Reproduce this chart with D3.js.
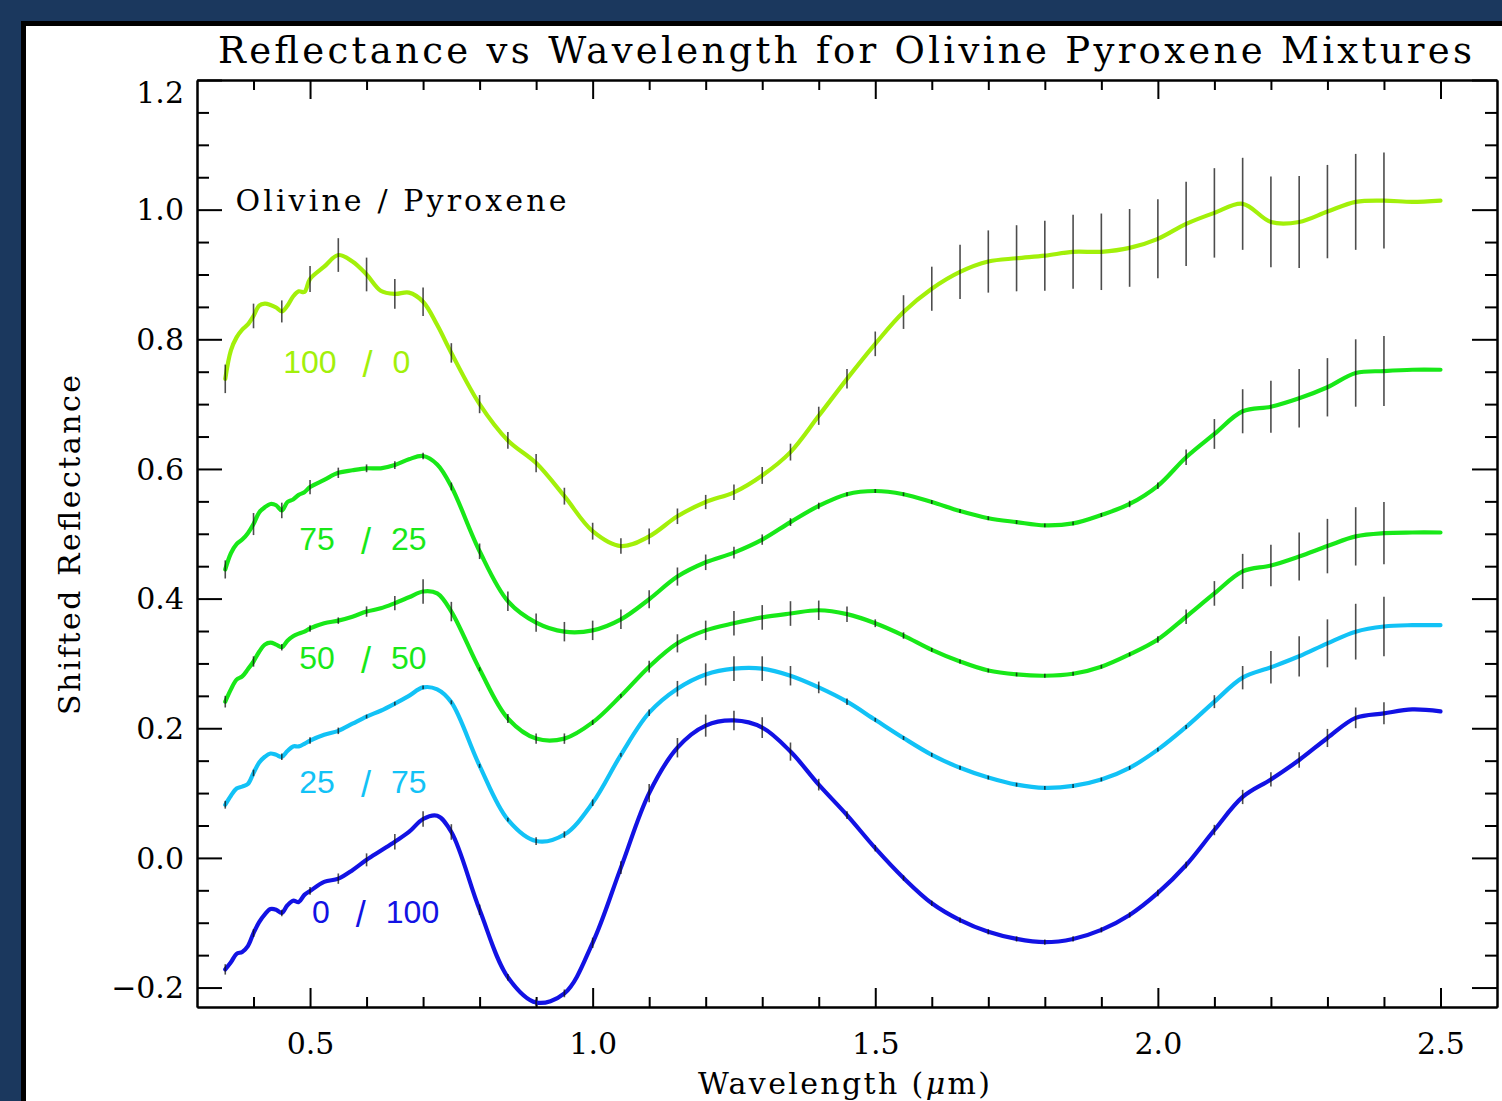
<!DOCTYPE html>
<html>
<head>
<meta charset="utf-8">
<script src="https://cdn.jsdelivr.net/npm/d3@7"></script>
<style>
body { margin: 0; background: #1b385e; }
svg { display: block; }
.axis text { font-family: "DejaVu Serif", serif; font-size: 30px; fill: #000; }
.axis path, .axis line { stroke: #000; stroke-width: 2px; }
</style>
</head>
<body>
<div id="viz"></div>
<script>
// wavelength grid (um)
var waves = [0.35,0.36,0.37,0.38,0.39,0.40,0.41,0.42,0.43,0.44,0.45,0.46,0.47,0.48,0.49,0.50,
  0.525,0.55,0.575,0.60,0.625,0.65,0.675,0.70,0.725,0.75,
  0.80,0.85,0.90,0.95,1.00,1.05,1.10,1.15,1.20,1.25,1.30,1.35,1.40,1.45,1.50,1.55,1.60,1.65,1.70,
  1.75,1.80,1.85,1.90,1.95,2.00,2.05,2.10,2.15,2.20,2.25,2.30,2.35,2.40,2.45,2.50];

// shifted reflectance, olivine / pyroxene mixtures
var ol100 = [0.739,0.783,0.803,0.815,0.823,0.836,0.852,0.855,0.853,0.849,0.843,0.852,0.866,0.874,0.873,0.893,
  0.912,0.930,0.920,0.900,0.875,0.870,0.872,0.858,0.822,0.779,
  0.700,0.644,0.609,0.558,0.504,0.481,0.496,0.527,0.549,0.564,0.590,0.626,0.682,0.739,0.793,0.842,0.878,0.904,0.920,
  0.925,0.929,0.935,0.935,0.941,0.955,0.978,0.995,1.009,0.981,0.981,0.997,1.012,1.014,1.012,1.014];
var ol75 = [0.445,0.470,0.484,0.491,0.501,0.515,0.533,0.541,0.546,0.544,0.536,0.549,0.553,0.560,0.564,0.572,
  0.583,0.594,0.598,0.601,0.601,0.606,0.615,0.620,0.607,0.573,
  0.473,0.396,0.363,0.349,0.351,0.368,0.399,0.434,0.456,0.471,0.491,0.518,0.543,0.561,0.566,0.561,0.549,0.535,0.524,
  0.518,0.513,0.516,0.529,0.546,0.574,0.618,0.654,0.689,0.696,0.709,0.726,0.748,0.751,0.753,0.753];
var ol50 = [0.241,0.260,0.275,0.280,0.291,0.303,0.318,0.329,0.332,0.329,0.325,0.335,0.342,0.346,0.349,0.354,
  0.362,0.366,0.372,0.380,0.385,0.393,0.402,0.411,0.408,0.380,
  0.291,0.215,0.184,0.184,0.209,0.250,0.295,0.331,0.351,0.362,0.371,0.377,0.382,0.376,0.362,0.343,0.321,0.303,0.289,
  0.283,0.281,0.284,0.295,0.314,0.337,0.372,0.408,0.442,0.451,0.465,0.481,0.496,0.501,0.502,0.502];
var ol25 = [0.082,0.096,0.107,0.110,0.114,0.131,0.147,0.156,0.161,0.159,0.156,0.165,0.172,0.172,0.176,0.181,
  0.190,0.196,0.207,0.218,0.227,0.238,0.250,0.263,0.260,0.240,
  0.142,0.059,0.026,0.036,0.085,0.159,0.224,0.261,0.283,0.292,0.292,0.281,0.263,0.241,0.213,0.185,0.159,0.139,0.124,
  0.113,0.108,0.111,0.121,0.139,0.167,0.202,0.241,0.278,0.294,0.311,0.331,0.349,0.357,0.359,0.359];
var ol0 = [-0.172,-0.161,-0.148,-0.145,-0.136,-0.116,-0.099,-0.087,-0.079,-0.080,-0.085,-0.073,-0.066,-0.068,-0.057,-0.051,
  -0.037,-0.032,-0.019,-0.003,0.011,0.025,0.040,0.060,0.065,0.040,
  -0.080,-0.184,-0.223,-0.209,-0.131,-0.015,0.100,0.170,0.204,0.212,0.201,0.164,0.113,0.066,0.015,-0.031,-0.070,-0.096,-0.114,
  -0.125,-0.130,-0.125,-0.111,-0.088,-0.054,-0.011,0.043,0.094,0.121,0.151,0.185,0.216,0.223,0.229,0.226];

// error bars: wavelengths and half-lengths
var errWaves = [0.35,0.40,0.45,0.50,0.55,0.60,0.65,0.70,0.75,0.80,0.85,0.90,0.95,1.00,1.05,1.10,1.15,1.20,1.25,1.30,1.35,
  1.40,1.45,1.50,1.55,1.60,1.65,1.70,1.75,1.80,1.85,1.90,1.95,2.00,2.05,2.10,2.15,2.20,2.25,2.30,2.35,2.40];
var err100 = [0.022,0.019,0.017,0.020,0.026,0.026,0.023,0.022,0.015,0.014,0.013,0.014,0.013,0.013,0.012,0.012,0.012,0.011,0.012,0.013,0.013,
  0.014,0.015,0.019,0.026,0.034,0.042,0.048,0.051,0.054,0.057,0.059,0.060,0.061,0.065,0.069,0.071,0.070,0.071,0.072,0.074,0.074];
var err75 = [0.014,0.017,0.012,0.011,0.008,0.006,0.006,0.005,0.006,0.012,0.015,0.014,0.015,0.015,0.015,0.014,0.014,0.012,0.009,0.008,0.006,
  0.005,0.003,0.003,0.003,0.003,0.003,0.003,0.003,0.003,0.003,0.003,0.005,0.005,0.012,0.023,0.034,0.040,0.045,0.045,0.052,0.054];
var err50 = [0.009,0.008,0.005,0.005,0.005,0.008,0.011,0.019,0.015,0.003,0.007,0.008,0.008,0.004,0.003,0.009,0.014,0.015,0.019,0.019,0.019,
  0.015,0.012,0.006,0.005,0.003,0.003,0.003,0.003,0.003,0.003,0.003,0.003,0.005,0.011,0.019,0.027,0.032,0.037,0.042,0.045,0.048];
var err25 = [0.006,0.005,0.005,0.005,0.005,0.003,0.003,0.003,0.003,0.003,0.003,0.006,0.005,0.005,0.003,0.005,0.012,0.017,0.019,0.019,0.015,
  0.009,0.005,0.003,0.003,0.003,0.003,0.003,0.003,0.003,0.003,0.003,0.003,0.003,0.003,0.010,0.018,0.025,0.031,0.037,0.043,0.046];
var err0 = [0.008,0.006,0.005,0.006,0.008,0.010,0.012,0.012,0.012,0.008,0.005,0.005,0.006,0.008,0.010,0.014,0.015,0.017,0.015,0.016,0.014,
  0.009,0.006,0.005,0.004,0.004,0.004,0.004,0.004,0.004,0.004,0.004,0.004,0.005,0.005,0.008,0.011,0.011,0.012,0.014,0.016,0.017];

var olivinePct = ["100", "75", "50", "25", "0"];
var pyroxenePct = ["0", "25", "50", "75", "100"];
var seriesValues = [ol100, ol75, ol50, ol25, ol0];
var seriesErrors = [err100, err75, err50, err25, err0];
var seriesColors = ["#a2f00a", "#18e818", "#18e818", "#12c2f6", "#1212e4"];
// label anchors (end of the olivine number) in data units
var labelWave = [0.547, 0.544, 0.544, 0.544, 0.535];
var labelRefl = [0.748, 0.475, 0.291, 0.100, -0.100];

var xMajor = [0.5, 1.0, 1.5, 2.0, 2.5];
var xMinor = [0.4,0.6,0.7,0.8,0.9,1.1,1.2,1.3,1.4,1.6,1.7,1.8,1.9,2.1,2.2,2.3,2.4];
var yMajor = [-0.2, 0.0, 0.2, 0.4, 0.6, 0.8, 1.0, 1.2];
var yMinor = [-0.15,-0.1,-0.05,0.05,0.1,0.15,0.25,0.3,0.35,0.45,0.5,0.55,0.65,0.7,0.75,0.85,0.9,0.95,1.05,1.1,1.15];

var width = 1502,
    height = 1101;

var svg = d3.select("#viz").append("svg")
    .attr("width", width)
    .attr("height", height);

// frame
svg.append("rect").attr("x", 0).attr("y", 0).attr("width", width).attr("height", height).attr("fill", "#1b385e");
svg.append("rect").attr("x", 21).attr("y", 21).attr("width", width).attr("height", height).attr("fill", "#000");
svg.append("rect").attr("x", 26).attr("y", 26).attr("width", width).attr("height", height).attr("fill", "#fff");

var x = d3.scaleLinear().domain([0.3, 2.6]).range([197, 1497]);
var y = d3.scaleLinear().domain([-0.23, 1.2]).range([1007, 80]);

// axes
function minorAxis(axis, vals, size) {
  return axis.tickValues(vals).tickSize(size).tickSizeOuter(0).tickFormat("");
}

svg.append("g").attr("class", "axis").attr("transform", "translate(0,1007)")
    .call(d3.axisBottom(x).tickValues(xMajor).tickSize(-19).tickSizeOuter(0).tickPadding(26).tickFormat(d3.format(".1f")));
svg.append("g").attr("class", "axis").attr("transform", "translate(0,1007)")
    .call(minorAxis(d3.axisBottom(x), xMinor, -10));
svg.append("g").attr("class", "axis").attr("transform", "translate(0,80)")
    .call(d3.axisTop(x).tickValues(xMajor).tickSize(-19).tickSizeOuter(0).tickFormat(""));
svg.append("g").attr("class", "axis").attr("transform", "translate(0,80)")
    .call(minorAxis(d3.axisTop(x), xMinor, -10));

svg.append("g").attr("class", "axis").attr("transform", "translate(197,0)")
    .call(d3.axisLeft(y).tickValues(yMajor).tickSize(-25).tickSizeOuter(0).tickPadding(13).tickFormat(d3.format(".1f")))
    .selectAll("text").attr("dy", function(d) { return d === 1.2 ? "0.75em" : "0.34em"; });
svg.append("g").attr("class", "axis").attr("transform", "translate(197,0)")
    .call(minorAxis(d3.axisLeft(y), yMinor, -12));
svg.append("g").attr("class", "axis").attr("transform", "translate(1497,0)")
    .call(d3.axisRight(y).tickValues(yMajor).tickSize(-25).tickSizeOuter(0).tickFormat(""));
svg.append("g").attr("class", "axis").attr("transform", "translate(1497,0)")
    .call(minorAxis(d3.axisRight(y), yMinor, -12));

// curves
var line = d3.line()
    .x(function(d) { return x(d[0]); })
    .y(function(d) { return y(d[1]); })
    .curve(d3.curveCatmullRom.alpha(0.5));

seriesValues.forEach(function(vals, s) {
  var pts = waves.map(function(w, i) { return [w, vals[i]]; });
  svg.append("path")
      .datum(pts)
      .attr("fill", "none")
      .attr("stroke", seriesColors[s])
      .attr("stroke-width", 4.2)
      .attr("stroke-linejoin", "round")
      .attr("stroke-linecap", "round")
      .attr("d", line);
});

// error bars
seriesValues.forEach(function(vals, s) {
  var bars = errWaves.map(function(w, i) {
    var k = waves.findIndex(function(v) { return Math.abs(v - w) < 1e-6; });
    return { w: w, v: vals[k], e: seriesErrors[s][i] };
  });
  svg.append("g").selectAll("line")
      .data(bars)
    .enter().append("line")
      .attr("x1", function(d) { return x(d.w); })
      .attr("x2", function(d) { return x(d.w); })
      .attr("y1", function(d) { return y(d.v - d.e); })
      .attr("y2", function(d) { return y(d.v + d.e); })
      .attr("stroke", "#111")
      .attr("stroke-opacity", 0.75)
      .attr("stroke-width", 1.6);
});

// series labels: "olivine / pyroxene"
var labels = svg.append("g").selectAll("g")
    .data(olivinePct)
  .enter().append("g")
    .attr("transform", function(d, i) { return "translate(" + x(labelWave[i]) + "," + y(labelRefl[i]) + ")"; })
    .attr("fill", function(d, i) { return seriesColors[i]; })
    .style("font-family", "'Liberation Sans', Arial, sans-serif")
    .style("font-size", "32px");

labels.append("text")
    .attr("text-anchor", "end")
    .text(function(d) { return d; });
labels.append("text")
    .attr("x", 31)
    .attr("y", 4)
    .attr("text-anchor", "middle")
    .style("font-size", "36px")
    .text("/");
labels.append("text")
    .attr("x", 56)
    .text(function(d, i) { return pyroxenePct[i]; });

svg.append("text")
    .attr("x", x(0.368))
    .attr("y", y(0.9985))
    .attr("textLength", 331)
    .attr("lengthAdjust", "spacing")
    .style("font-family", "'DejaVu Serif', serif")
    .style("font-size", "30px")
    .text("Olivine / Pyroxene");

// title and axis labels
svg.append("text")
    .attr("x", 218)
    .attr("y", 63)
    .attr("textLength", 1254)
    .attr("lengthAdjust", "spacing")
    .style("font-family", "'DejaVu Serif', serif")
    .style("font-size", "37px")
    .text("Reflectance vs Wavelength for Olivine Pyroxene Mixtures");

var xl = svg.append("text")
    .attr("x", 698)
    .attr("y", 1094)
    .attr("textLength", 292)
    .attr("lengthAdjust", "spacing")
    .style("font-family", "'DejaVu Serif', serif")
    .style("font-size", "30px");
xl.append("tspan").text("Wavelength (");
xl.append("tspan").style("font-style", "italic").text("\u03bc");
xl.append("tspan").text("m)");

svg.append("text")
    .attr("transform", "translate(80,715) rotate(-90)")
    .attr("x", 0)
    .attr("y", 0)
    .attr("textLength", 340)
    .attr("lengthAdjust", "spacing")
    .style("font-family", "'DejaVu Serif', serif")
    .style("font-size", "30px")
    .text("Shifted Reflectance");
</script>
</body>
</html>
